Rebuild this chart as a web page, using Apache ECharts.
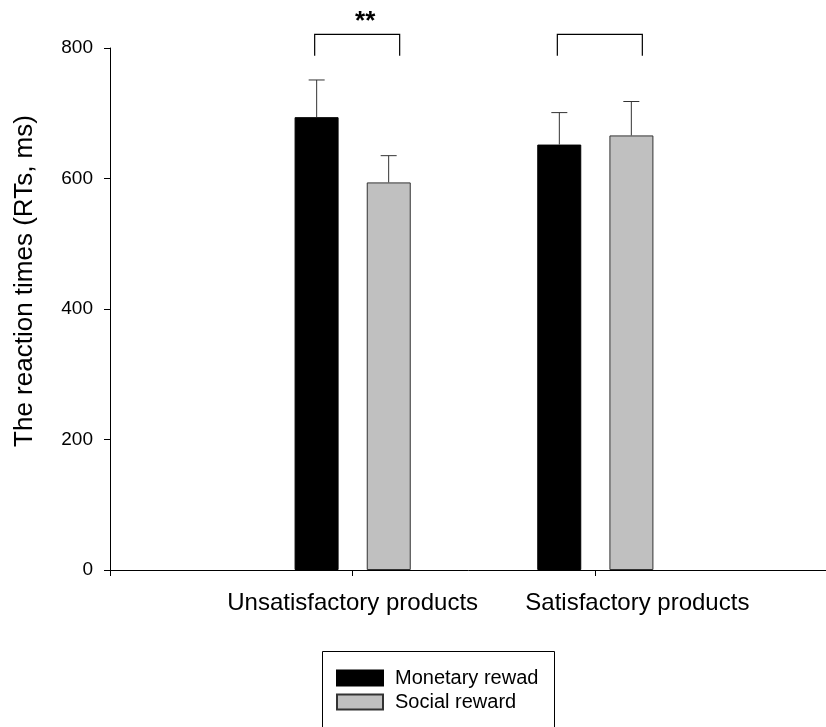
<!DOCTYPE html>
<html>
<head>
<meta charset="utf-8">
<script src="https://cdn.jsdelivr.net/npm/echarts@6/dist/echarts.min.js"></script>
<style>html,body{margin:0;padding:0;background:#fff;}#c{width:826px;height:727px;}</style>
</head>
<body>
<div id="c"></div>
<script>
var categories = ['', 'Unsatisfactory products', 'Satisfactory products', ''];
var seriesNames = ['Monetary rewad', 'Social reward'];
var monetary = [null, 694, 652, null];
var social = [null, 594, 666, null];
var monetarySE = [null, 57, 49, null];
var socialSE = [null, 41, 52, null];
var yTicks = [0, 200, 400, 600, 800];
var sigLabels = [null, '**', '', null];
var bracketTop = 821;
var bracketBottom = 788;

var FONT = 'Arial, "Liberation Sans", sans-serif';
var chart = echarts.init(document.getElementById('c'));

var BAR_W = 44, OFFSET = 36;
var labelShift = [0, 0, 84, 0];

function errData(vals, se) {
  var out = [];
  vals.forEach(function (v, i) { if (v != null) out.push([i, v, se[i]]); });
  return out;
}

function errSeries(name, vals, se, dx) {
  return {
    type: 'custom',
    name: name + ' SE',
    silent: true,
    z: 5,
    data: errData(vals, se),
    renderItem: function (params, api) {
      var i = api.value(0), v = api.value(1), e = api.value(2);
      var p0 = api.coord([i, v]);
      var p1 = api.coord([i, v + e]);
      var x = p0[0] + dx;
      var st = { stroke: '#333', lineWidth: 1 };
      return {
        type: 'group',
        children: [
          { type: 'line', shape: { x1: x, y1: p0[1], x2: x, y2: p1[1] }, style: st },
          { type: 'line', shape: { x1: x - 8, y1: p1[1], x2: x + 8, y2: p1[1] }, style: st }
        ]
      };
    }
  };
}

var bracketData = [];
sigLabels.forEach(function (s, i) { if (s != null) bracketData.push([i, bracketTop, bracketBottom, s]); });

var xData = categories.map(function (c, i) {
  return { value: c, textStyle: { padding: [0, 0, 0, labelShift[i]] } };
});

var option = {
  animation: false,
  backgroundColor: '#fff',
  textStyle: { fontFamily: FONT, color: '#000' },
  grid: { left: 110, top: 48, bottom: 157, right: -12, containLabel: false, outerBoundsMode: 'none' },
  graphic: [{
    type: 'rect',
    silent: true,
    shape: { x: 322.5, y: 651.5, width: 232, height: 110 },
    style: { fill: 'none', stroke: '#000', lineWidth: 1 }
  }],
  legend: {
    orient: 'vertical',
    left: 322,
    top: 651,
    data: seriesNames,
    icon: 'rect',
    itemWidth: 46,
    itemHeight: 15,
    itemGap: 4,
    padding: [17, 0, 0, 14],
    selectedMode: false,
    textStyle: { fontSize: 20, color: '#000', fontFamily: FONT, padding: [0, 0, 0, 7] }
  },
  xAxis: {
    type: 'category',
    data: xData,
    boundaryGap: false,
    axisLine: { lineStyle: { color: '#000', width: 1 } },
    axisTick: { show: true, length: 6, interval: 0, lineStyle: { color: '#000' } },
    axisLabel: { fontSize: 24, color: '#000', margin: 21, interval: 0, hideOverlap: false, fontFamily: FONT },
    splitLine: { show: false }
  },
  yAxis: {
    type: 'value',
    min: yTicks[0],
    max: yTicks[yTicks.length - 1],
    interval: yTicks[1] - yTicks[0],
    name: 'The reaction times (RTs, ms)',
    nameLocation: 'middle',
    nameGap: 72,
    nameTextStyle: { fontSize: 26, color: '#000', fontFamily: FONT, padding: [0, 0, 0, 56] },
    axisLine: { show: true, lineStyle: { color: '#000', width: 1 } },
    axisTick: { show: true, length: 6, lineStyle: { color: '#000' } },
    axisLabel: { fontSize: 19, color: '#000', margin: 17, fontFamily: FONT },
    splitLine: { show: false }
  },
  series: [
    {
      name: seriesNames[0], type: 'bar', data: monetary,
      barWidth: BAR_W, barGap: '64%',
      itemStyle: { color: '#000', borderColor: '#000', borderWidth: 1 }
    },
    {
      name: seriesNames[1], type: 'bar', data: social,
      barWidth: BAR_W, barGap: '64%',
      itemStyle: { color: '#c0c0c0', borderColor: '#333', borderWidth: 1 }
    },
    errSeries(seriesNames[0], monetary, monetarySE, -OFFSET),
    errSeries(seriesNames[1], social, socialSE, OFFSET),
    {
      type: 'custom',
      name: 'brackets',
      silent: true,
      clip: false,
      z: 6,
      data: bracketData,
      renderItem: function (params, api) {
        var i = api.value(0);
        var top = api.coord([i, api.value(1)]);
        var bot = api.coord([i, api.value(2)]);
        var xl = top[0] - OFFSET - 2;
        var xr = top[0] + 47;
        var st = { stroke: '#000', lineWidth: 1.2, fill: null };
        var label = bracketData[params.dataIndex][3];
        return {
          type: 'group',
          children: [
            { type: 'polyline', shape: { points: [[xl, bot[1]], [xl, top[1]], [xr, top[1]], [xr, bot[1]]] }, style: st },
            { type: 'text', style: { text: label, x: (xl + xr) / 2 + 8, y: top[1] - 12, align: 'center', verticalAlign: 'middle', fontSize: 26, fontWeight: 'bold', fontFamily: FONT, fill: '#000' } }
          ]
        };
      }
    }
  ]
};
chart.setOption(option);
</script>
</body>
</html>
